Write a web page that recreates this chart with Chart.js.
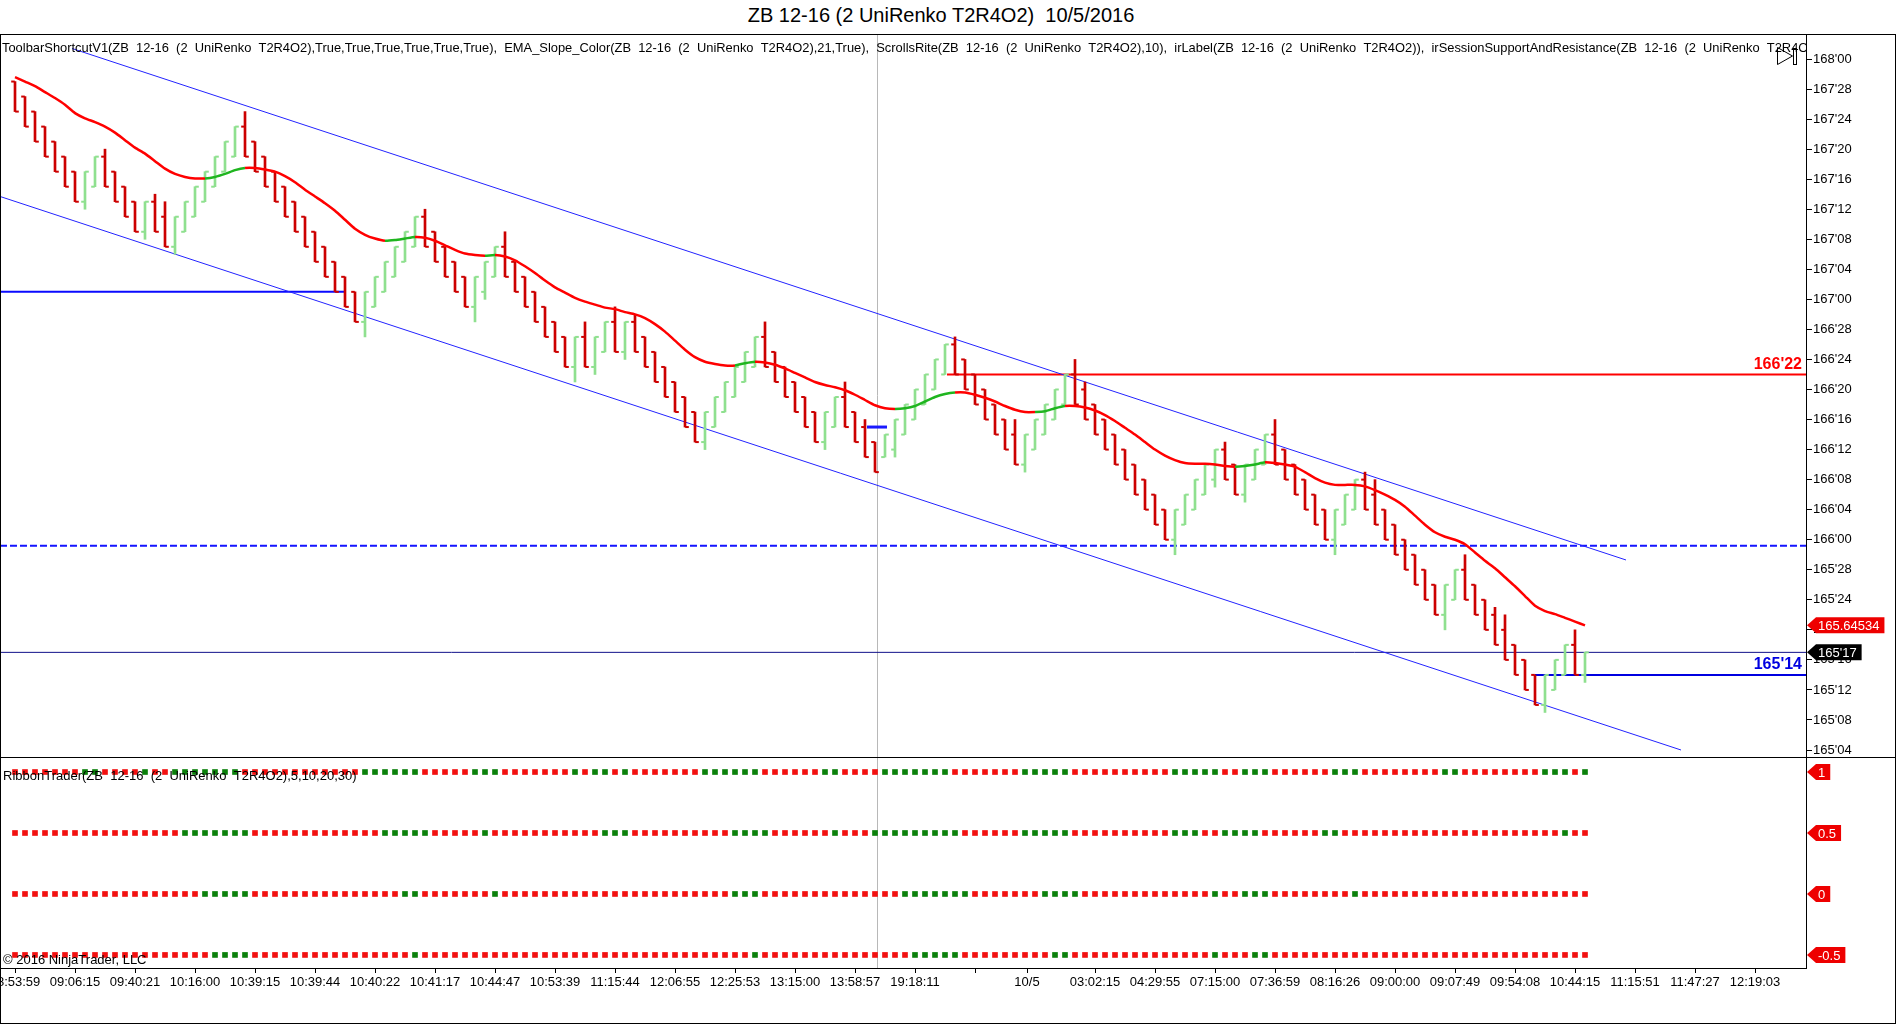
<!DOCTYPE html>
<html>
<head>
<meta charset="utf-8">
<script src="https://cdn.jsdelivr.net/npm/chart.js@4.4.1/dist/chart.umd.min.js"></script>
<style>
body { margin: 0; background: #fff; font-family: "Liberation Sans", Arial, sans-serif; }
#wrap { position: relative; width: 1896px; height: 1024px; overflow: hidden; background: #fff; }
#title { position: absolute; left: 0; top: 4px; width: 1882px; text-align: center; font-size: 20px; color: #000; white-space: pre; }
canvas { position: absolute; left: 0; }
#main { top: 34px; }
#ribbon { top: 757px; }
.ln { position: absolute; background: #000; }
</style>
</head>
<body>
<div id="wrap">
  <div id="title">ZB 12-16 (2 UniRenko T2R4O2)  10/5/2016</div>
  <canvas id="main" width="1896" height="723"></canvas>
  <canvas id="ribbon" width="1896" height="266"></canvas>
  <div class="ln" style="left:0;top:34px;width:1896px;height:1px"></div>
  <div class="ln" style="left:0;top:34px;width:1px;height:990px"></div>
  <div class="ln" style="left:1895px;top:34px;width:1px;height:990px"></div>
  <div class="ln" style="left:0;top:1023px;width:1896px;height:1px"></div>
  <div class="ln" style="left:0;top:757px;width:1896px;height:1px"></div>
  <div class="ln" style="left:1806px;top:34px;width:1px;height:934px"></div>
  <div class="ln" style="left:0;top:968px;width:1807px;height:1px"></div>
</div>
<script>
// prices are in 32nds of a point (168'00 = 5376)
const barOpen = [
  5373,5371,5369,5367,5365,5363,5361,5357,5359,5363,
  5361,5359,5357,5353,5357,5355,5351,5353,5355,5357,
  5359,5361,5363,5367,5365,5363,5361,5359,5357,5355,
  5353,5351,5349,5347,5345,5341,5343,5345,5347,5349,
  5351,5355,5353,5351,5349,5347,5343,5345,5347,5351,
  5349,5347,5345,5343,5341,5339,5335,5339,5335,5337,
  5341,5337,5341,5339,5337,5335,5333,5331,5329,5325,
  5327,5329,5331,5333,5335,5339,5337,5335,5333,5331,
  5329,5325,5327,5331,5329,5327,5325,5323,5324,5326,
  5328,5330,5332,5334,5338,5336,5334,5332,5330,5328,
  5326,5322,5324,5326,5328,5330,5334,5332,5330,5328,
  5326,5324,5322,5320,5318,5316,5312,5314,5316,5318,
  5320,5324,5322,5318,5320,5322,5326,5324,5322,5320,
  5318,5316,5312,5314,5316,5320,5318,5316,5314,5312,
  5310,5308,5306,5302,5304,5308,5306,5304,5302,5300,
  5298,5296,5294,5290,5292,5294,5298,5294]
const barHigh = [
  5373,5371,5369,5367,5365,5363,5361,5361,5363,5364,
  5361,5359,5357,5357,5358,5357,5355,5357,5359,5361,
  5363,5365,5367,5369,5365,5363,5361,5359,5357,5355,
  5353,5351,5349,5347,5345,5345,5347,5349,5351,5353,
  5355,5356,5353,5351,5349,5347,5347,5349,5351,5353,
  5349,5347,5345,5343,5341,5339,5339,5341,5339,5341,
  5343,5341,5342,5339,5337,5335,5333,5331,5329,5329,
  5331,5333,5335,5337,5339,5341,5337,5335,5333,5331,
  5329,5329,5331,5333,5329,5328,5325,5326,5328,5330,
  5332,5334,5336,5338,5339,5336,5334,5332,5330,5328,
  5328,5326,5328,5330,5332,5334,5336,5333,5330,5328,
  5326,5324,5322,5320,5318,5316,5316,5318,5320,5322,
  5324,5325,5322,5322,5324,5326,5328,5324,5322,5320,
  5318,5316,5316,5318,5320,5321,5320,5316,5314,5312,
  5310,5308,5306,5306,5308,5310,5306,5304,5303,5302,
  5298,5296,5294,5294,5296,5298,5300,5297]
const barLow = [
  5369,5367,5365,5363,5361,5359,5357,5356,5359,5359,
  5357,5355,5353,5352,5353,5351,5350,5353,5355,5357,
  5359,5361,5363,5363,5361,5359,5357,5355,5353,5351,
  5349,5347,5345,5343,5341,5339,5343,5345,5347,5349,
  5351,5351,5349,5347,5345,5343,5341,5344,5347,5347,
  5345,5343,5341,5339,5337,5335,5333,5335,5334,5337,
  5337,5336,5337,5335,5333,5331,5329,5327,5325,5324,
  5327,5329,5331,5333,5335,5335,5333,5331,5329,5327,
  5325,5324,5327,5327,5325,5323,5321,5323,5323,5326,
  5328,5330,5332,5334,5334,5332,5330,5328,5326,5324,
  5322,5321,5324,5326,5328,5330,5330,5328,5326,5324,
  5322,5320,5318,5316,5314,5312,5310,5314,5316,5318,
  5319,5320,5318,5317,5320,5322,5322,5320,5318,5316,
  5314,5312,5310,5314,5316,5316,5314,5312,5310,5308,
  5306,5304,5302,5300,5304,5304,5302,5300,5298,5296,
  5294,5292,5290,5289,5292,5294,5294,5293]
const barClose = [
  5369,5367,5365,5363,5361,5359,5357,5361,5363,5359,
  5357,5355,5353,5357,5353,5351,5355,5357,5359,5361,
  5363,5365,5367,5363,5361,5359,5357,5355,5353,5351,
  5349,5347,5345,5343,5341,5345,5347,5349,5351,5353,
  5355,5351,5349,5347,5345,5343,5347,5349,5351,5347,
  5345,5343,5341,5339,5337,5335,5339,5335,5339,5341,
  5337,5341,5337,5335,5333,5331,5329,5327,5325,5329,
  5331,5333,5335,5337,5339,5335,5333,5331,5329,5327,
  5325,5329,5331,5327,5325,5323,5321,5326,5328,5330,
  5332,5334,5336,5338,5334,5332,5330,5328,5326,5324,
  5322,5326,5328,5330,5332,5334,5330,5328,5326,5324,
  5322,5320,5318,5316,5314,5312,5316,5318,5320,5322,
  5324,5320,5318,5322,5324,5326,5322,5320,5318,5316,
  5314,5312,5316,5318,5320,5316,5314,5312,5310,5308,
  5306,5304,5302,5306,5308,5304,5302,5300,5298,5296,
  5294,5292,5290,5294,5296,5298,5294,5297]
const ema21 = [
  5373.6,5373.0,5372.4,5371.6,5370.8,5369.9,5368.8,5368.1,5367.6,5367.0,
  5366.2,5365.2,5364.2,5363.4,5362.4,5361.4,5360.7,5360.3,5360.1,5360.1,
  5360.3,5360.7,5361.2,5361.5,5361.5,5361.3,5361.0,5360.4,5359.6,5358.6,
  5357.7,5356.8,5355.8,5354.6,5353.4,5352.6,5352.1,5351.8,5351.9,5352.1,
  5352.3,5352.2,5351.8,5351.2,5350.6,5350.1,5349.9,5349.8,5349.9,5349.7,
  5349.2,5348.4,5347.5,5346.5,5345.6,5344.9,5344.2,5343.7,5343.3,5342.9,
  5342.7,5342.3,5342.0,5341.5,5340.7,5339.7,5338.5,5337.3,5336.3,5335.7,
  5335.4,5335.2,5335.2,5335.5,5335.7,5335.6,5335.3,5334.8,5334.2,5333.6,
  5333.0,5332.6,5332.3,5331.9,5331.3,5330.6,5329.9,5329.5,5329.4,5329.5,
  5329.8,5330.4,5331.0,5331.4,5331.6,5331.6,5331.3,5330.9,5330.4,5329.8,
  5329.3,5329.0,5329.0,5329.1,5329.5,5329.8,5329.8,5329.6,5329.2,5328.6,
  5327.8,5326.9,5326.0,5325.0,5324.0,5323.2,5322.6,5322.2,5322.1,5322.1,
  5322.0,5321.8,5321.7,5321.8,5322.0,5322.3,5322.2,5322.0,5321.7,5321.0,
  5320.2,5319.6,5319.3,5319.3,5319.3,5319.1,5318.6,5318.0,5317.3,5316.4,
  5315.2,5314.0,5313.0,5312.4,5312.0,5311.4,5310.3,5309.2,5308.2,5307.0,
  5305.8,5304.5,5303.2,5302.5,5302.1,5301.6,5301.1,5300.6]

// price axis tick labels; time labels with the bar each one sits under
const priceTickLabels = ["168'00","167'28","167'24","167'20","167'16","167'12","167'08","167'04","167'00",
  "166'28","166'24","166'20","166'16","166'12","166'08","166'04","166'00",
  "165'28","165'24","165'20","165'16","165'12","165'08","165'04"]
const timeLabels = ['08:53:59','09:06:15','09:40:21','10:16:00','10:39:15','10:39:44','10:40:22','10:41:17',
  '10:44:47','10:53:39','11:15:44','12:06:55','12:25:53','13:15:00','13:58:57','19:18:11','','10/5',
  '03:02:15','04:29:55','07:15:00','07:36:59','08:16:26','09:00:00','09:07:49','09:54:08','10:44:15',
  '11:15:51','11:47:27','12:19:03']
const timeLabelBars = [0,6,12,18,24,30,36,42,48,54,60,66,72,78,84,90,96,101.2,
  108,114,120,126,132,138,144,150,156,162,168,174]

// drawn lines: [startBar, startPrice, endBar, endPrice]
const channelUpper = [5.7, 5377.4, 161.1, 5309.3]
const channelLower = [-1.5, 5357.7, 166.6, 5284.0]
const support16701 = [-1.5, 5345, 33, 5345]
const sessionDash = [-1.5, 5311.2, 179.1, 5311.2]
const resistance = [93.2, 5334, 179.1, 5334]
const support16514 = [152, 5294, 179.1, 5294]
const lastPriceLine = [-1.5, 5297, 179.1, 5297]
const sessionMark = [85.2, 5327, 87.2, 5327]
const sessionBreak = 86.15
const emaTagText = '165.64534'

// RibbonTrader rows (5, 10, 20, 30) as runs of [colour, bars]
const ribbonLevels = [1, 0.5, 0, -0.5]
const ribbon5 = [['R',7],['G',2],['R',4],['G',1],['R',2],['G',7],['R',12],['G',6],['R',5],['G',3],['R',7],['G',1],['R',1],['G',2],['R',1],['G',1],['R',7],['G',6],['R',6],['G',2],['R',4],['G',7],['R',7],['G',5],['R',10],['G',5],['R',2],['G',3],['R',6],['G',3],['R',8],['G',2],['R',8],['G',3],['R',1],['G',1]]
const ribbon10 = [['R',17],['G',7],['R',13],['G',5],['R',5],['G',1],['R',11],['G',3],['R',10],['G',4],['R',6],['G',1],['R',3],['G',9],['R',6],['G',5],['R',10],['G',3],['R',2],['G',4],['R',6],['G',2],['R',22],['G',1],['R',2]]
const ribbon20 = [['R',19],['G',5],['R',15],['G',2],['R',7],['G',1],['R',23],['G',3],['R',14],['G',7],['R',7],['G',4],['R',13],['G',1],['R',2],['G',3],['R',8],['G',1],['R',23]]
const ribbon30 = [['R',20],['G',4],['R',16],['G',1],['R',33],['G',1],['R',15],['G',5],['R',9],['G',2],['R',14],['G',1],['R',3],['G',2],['R',32]]

const FONT = '"Liberation Sans", Arial, sans-serif'
Chart.defaults.font.family = FONT
Chart.defaults.color = '#000'

const xMin = -1.5, xMax = 179.1
const upBar = '#8fe08f', downBar = '#cc0000'
const fmt32 = p => Math.floor(p / 32) + "'" + String(Math.round(p % 32)).padStart(2, '0')
const parse32 = s => { const [a, b] = s.split("'"); return Number(a) * 32 + Number(b) }
const seg = (s, color, width, dash) => ({
  type: 'line', data: [{x: s[0], y: s[1]}, {x: s[2], y: s[3]}],
  borderColor: color, borderWidth: width, borderDash: dash || [], pointRadius: 0, order: 5
})
const expandRuns = runs => { const out = []; runs.forEach(([c, n]) => { for (let k = 0; k < n; k++) out.push(c) }); return out }

const barColors = barOpen.map((o, i) => barClose[i] > o ? upBar : downBar)

function tag(ctx, x, y, text, bg) {
  ctx.font = '13px ' + FONT
  const w = ctx.measureText(text).width + 7
  ctx.beginPath()
  ctx.moveTo(x, y)
  ctx.lineTo(x + 9, y - 8)
  ctx.lineTo(x + 9 + w, y - 8)
  ctx.lineTo(x + 9 + w, y + 8)
  ctx.lineTo(x + 9, y + 8)
  ctx.closePath()
  ctx.fillStyle = bg
  ctx.fill()
  ctx.fillStyle = '#fff'
  ctx.textBaseline = 'middle'
  ctx.textAlign = 'left'
  ctx.fillText(text, x + 11, y + 1)
}

function drawBreak(chart) {
  const {ctx, chartArea: a, scales: {x}} = chart
  const px = Math.round(x.getPixelForValue(sessionBreak)) + 0.5
  ctx.save()
  ctx.strokeStyle = '#b8b8b8'
  ctx.lineWidth = 1
  ctx.beginPath(); ctx.moveTo(px, a.top); ctx.lineTo(px, a.bottom); ctx.stroke()
  ctx.restore()
}

const indicatorText = 'ToolbarShortcutV1(ZB  12-16  (2  UniRenko  T2R4O2),True,True,True,True,True,True),  EMA_Slope_Color(ZB  12-16  (2  UniRenko  T2R4O2),21,True),  ScrollsRite(ZB  12-16  (2  UniRenko  T2R4O2),10),  irLabel(ZB  12-16  (2  UniRenko  T2R4O2)),  irSessionSupportAndResistance(ZB  12-16  (2  UniRenko  T2R4O2))'

const mainDeco = {
  id: 'mainDeco',
  beforeDatasetsDraw: drawBreak,
  afterDraw(chart) {
    const {ctx, chartArea: a, scales: {y}} = chart
    ctx.save()
    ctx.beginPath(); ctx.rect(a.left, a.top, a.right - a.left, a.bottom - a.top); ctx.clip()
    ctx.font = '12.9px ' + FONT
    ctx.fillStyle = '#000'
    ctx.textBaseline = 'middle'
    ctx.fillText(indicatorText, 2, 14)
    ctx.restore()

    // scroll button
    ctx.save()
    ctx.strokeStyle = '#000'; ctx.lineWidth = 1
    ctx.beginPath(); ctx.moveTo(1777.5, 13.5); ctx.lineTo(1777.5, 30.5); ctx.lineTo(1792.5, 22); ctx.closePath(); ctx.stroke()
    ctx.strokeRect(1793.5, 14.5, 3, 16)
    ctx.restore()

    // level labels
    ctx.save()
    ctx.font = 'bold 16px ' + FONT
    ctx.textAlign = 'right'
    ctx.textBaseline = 'bottom'
    ctx.fillStyle = '#ff0000'
    ctx.fillText(fmt32(resistance[1]), 1802, y.getPixelForValue(resistance[1]) - 2)
    ctx.fillStyle = '#0000e0'
    ctx.fillText(fmt32(support16514[1]), 1802, y.getPixelForValue(support16514[1]) - 2)
    ctx.restore()

    // axis tags
    ctx.save()
    tag(ctx, 1807, y.getPixelForValue(ema21[ema21.length - 1]), emaTagText, '#ee0000')
    tag(ctx, 1807, y.getPixelForValue(barClose[barClose.length - 1]), fmt32(barClose[barClose.length - 1]), '#000')
    ctx.restore()
  }
}

new Chart(document.getElementById('main'), {
  type: 'bar',
  data: {
    datasets: [
      {
        type: 'line', data: ema21.map((v, i) => ({x: i, y: v})), borderWidth: 2.5, pointRadius: 0, tension: 0.2,
        borderColor: '#ff0000', order: 0,
        segment: { borderColor: c => c.p1.parsed.y > c.p0.parsed.y ? '#1fb51f' : '#ff0000' }
      },
      {
        type: 'line', showLine: false, order: 1,
        data: barOpen.map((v, i) => ({x: i - 0.2, y: v})),
        pointStyle: 'line', pointRadius: 1.8, pointBorderWidth: 2, pointBorderColor: barColors
      },
      {
        type: 'line', showLine: false, order: 1,
        data: barClose.map((v, i) => ({x: i + 0.2, y: v})),
        pointStyle: 'line', pointRadius: 1.8, pointBorderWidth: 2, pointBorderColor: barColors
      },
      {
        type: 'bar', order: 2, grouped: false, barThickness: 2,
        data: barLow.map((v, i) => ({x: i, y: [v, barHigh[i]]})),
        backgroundColor: barColors
      },
      seg(channelUpper, '#2323ff', 1),
      seg(channelLower, '#2323ff', 1),
      seg(support16701, '#0a0aff', 2),
      seg(sessionDash, '#1414ff', 2, [7, 3]),
      seg(resistance, '#ff0000', 2),
      seg(support16514, '#0000e0', 2),
      seg(lastPriceLine, '#10108a', 1),
      seg(sessionMark, '#1a1aff', 3)
    ]
  },
  options: {
    responsive: false, animation: false, events: [], devicePixelRatio: 1,
    layout: { padding: 0, autoPadding: false },
    plugins: { legend: { display: false }, tooltip: { enabled: false } },
    scales: {
      x: { type: 'linear', min: xMin, max: xMax, offset: false, display: false },
      y: {
        position: 'right', min: 5283.07, max: 5379.33,
        border: { display: false },
        grid: { drawOnChartArea: false, drawTicks: true, tickLength: 6, color: '#000' },
        ticks: { padding: 1, font: { size: 13 }, color: '#000', callback: v => fmt32(v) },
        afterBuildTicks: s => { s.ticks = priceTickLabels.map(t => ({value: parse32(t)})) },
        afterFit: s => { s.width = 90; s.paddingTop = 0; s.paddingBottom = 0 }
      }
    }
  },
  plugins: [mainDeco]
})

const ribbonDeco = {
  id: 'ribbonDeco',
  beforeDatasetsDraw: drawBreak,
  afterDraw(chart) {
    const {ctx, chartArea: a, scales: {y}} = chart
    ctx.save()
    ctx.font = '13px ' + FONT
    ctx.fillStyle = '#000'
    ctx.textBaseline = 'middle'
    ctx.fillText('RibbonTrader(ZB  12-16  (2  UniRenko  T2R4O2),5,10,20,30)', 3, 19)
    ctx.fillText('\u00a9 2016 NinjaTrader, LLC', 3, 203)
    ribbonLevels.forEach(l => tag(ctx, 1807, y.getPixelForValue(l), String(l), '#ee0000'))
    ctx.restore()
  }
}

const ribbonRows = [ribbon5, ribbon10, ribbon20, ribbon30]

new Chart(document.getElementById('ribbon'), {
  type: 'line',
  data: {
    datasets: ribbonRows.map((runs, r) => {
      const cols = expandRuns(runs)
      return {
        showLine: false,
        data: cols.map((c, i) => ({x: i, y: ribbonLevels[r]})),
        pointStyle: 'rect', pointRadius: 4, pointBorderWidth: 0,
        pointBackgroundColor: cols.map(c => c === 'G' ? '#0b800b' : '#f21010')
      }
    })
  },
  options: {
    responsive: false, animation: false, events: [], devicePixelRatio: 1,
    layout: { padding: { right: 90 }, autoPadding: false },
    plugins: { legend: { display: false }, tooltip: { enabled: false } },
    scales: {
      x: {
        type: 'linear', min: xMin, max: xMax, offset: false,
        border: { display: false },
        grid: { drawOnChartArea: false, drawTicks: true, tickLength: 5, color: '#000' },
        ticks: { autoSkip: false, maxRotation: 0, padding: 2, font: { size: 13 }, color: '#000',
          callback: (v, idx) => timeLabels[idx] },
        afterBuildTicks: s => { s.ticks = timeLabelBars.map(b => ({value: b})) },
        afterFit: s => { s.height = 55; s.paddingLeft = 0; s.paddingRight = 0 }
      },
      y: { min: -0.607, max: 1.123, display: false }
    }
  },
  plugins: [ribbonDeco]
})
</script>
</body>
</html>
